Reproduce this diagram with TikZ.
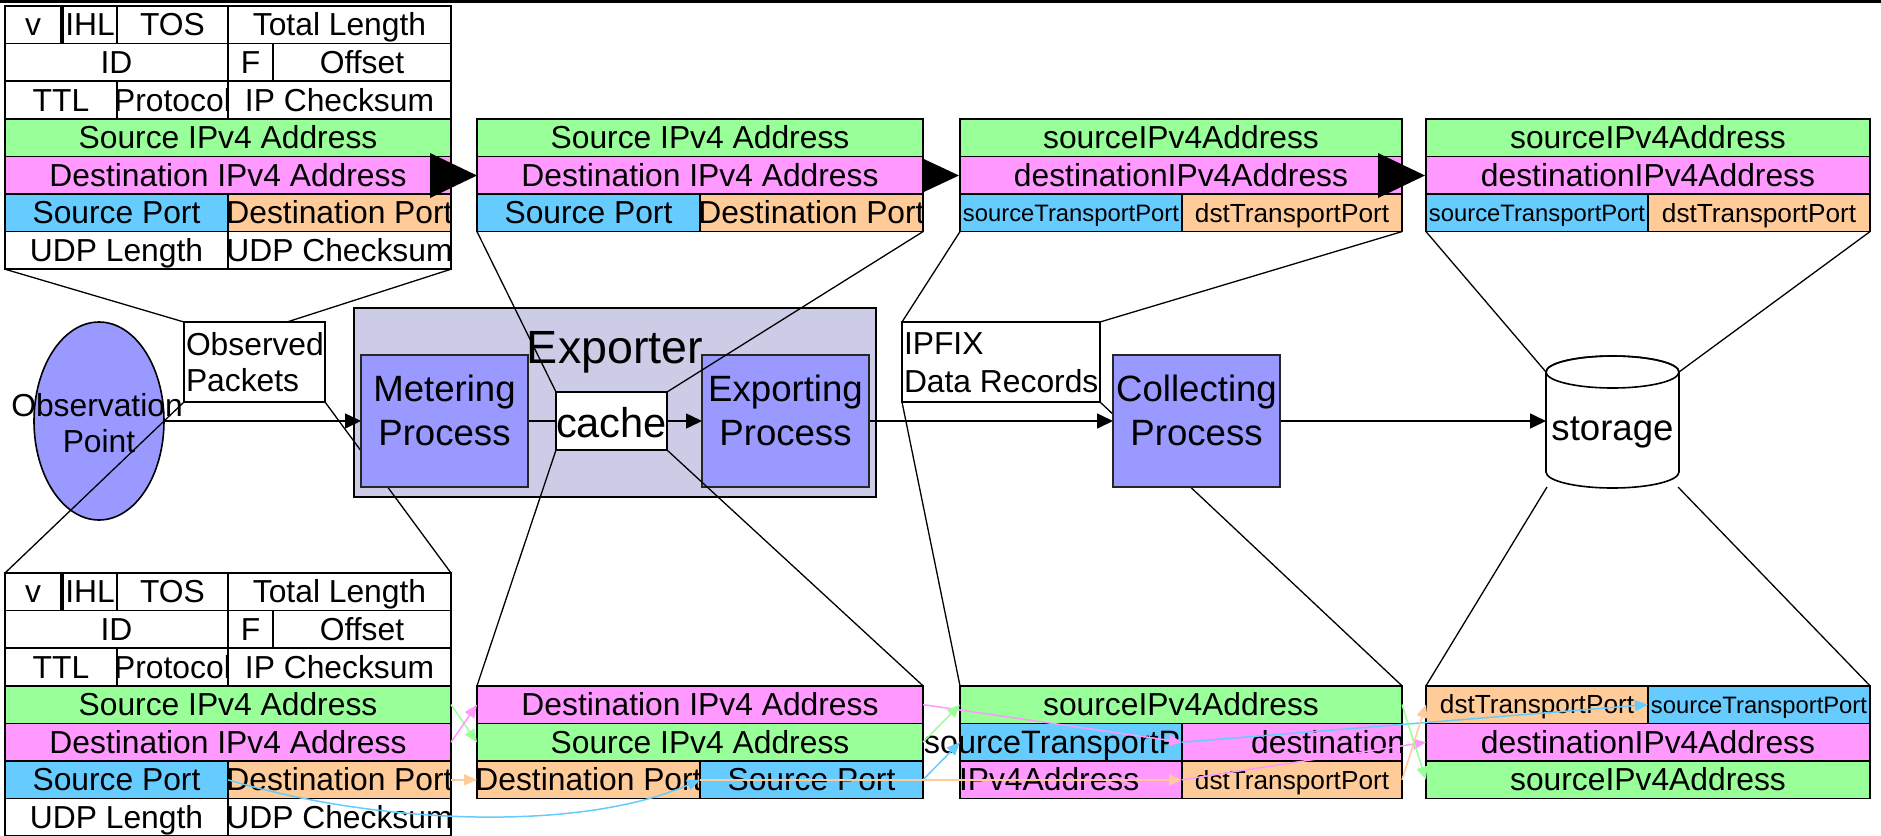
\documentclass[tikz,border=0pt]{standalone}
\usepackage{fontspec}
\setmainfont{Liberation Sans}
\usetikzlibrary{arrows.meta,shapes.geometric}
\definecolor{cgreen}{HTML}{99FF99}
\definecolor{cpink}{HTML}{FF99FF}
\definecolor{cblue}{HTML}{66CCFF}
\definecolor{corange}{HTML}{FFCC99}
\definecolor{cproc}{HTML}{9999FF}
\definecolor{cexp}{HTML}{CCCCE6}
\newcommand{\fTab}{\fontsize{15.9}{19}\selectfont}
\newcommand{\fProc}{\fontsize{18.3}{22}\selectfont}
\newcommand{\fExp}{\fontsize{23.3}{28}\selectfont}
\newcommand{\fCache}{\fontsize{20.8}{24}\selectfont}
\newcommand{\fSrc}{\fontsize{11.9}{14}\selectfont}
\newcommand{\fDst}{\fontsize{13.1}{16}\selectfont}
\pgfdeclarelayer{tables}
\pgfdeclarelayer{under}
\pgfdeclarelayer{over}
\pgfsetlayers{tables,under,main,over}
% name, x1, y1, x2, y2, fill, font, baseline shift, text
\newcommand{\tcellf}[9]{%
  \fill[#6] (#2,#3) rectangle (#4,#5);
  \begin{scope}
    \clip (#2,#3) rectangle (#4,#5);
    \node[lbl] (#1) at ({(#2+#4)/2},{(#3+#5)/2+#8}) {#7#9};
  \end{scope}
  \coordinate (#1-w) at (#2,{(#3+#5)/2});
  \coordinate (#1-e) at (#4,{(#3+#5)/2});
  \draw[cellline] (#2,#3) rectangle (#4,#5);
}
\newcommand{\tcell}[7]{\tcellf{#1}{#2}{#3}{#4}{#5}{#6}{\fTab}{11}{#7}}
% IPv4/UDP header table: prefix, then 8 row boundaries
\newcommand{\ipudp}[9]{%
  \tcell{#1v}{5}{#2}{61}{#3}{white}{v}
  \tcell{#1ihl}{63}{#2}{117}{#3}{white}{IHL}
  \tcell{#1tos}{117}{#2}{228}{#3}{white}{TOS}
  \tcell{#1tl}{228}{#2}{451}{#3}{white}{Total Length}
  \tcell{#1id}{5}{#3}{228}{#4}{white}{ID}
  \tcell{#1f}{228}{#3}{273}{#4}{white}{F}
  \tcell{#1off}{273}{#3}{451}{#4}{white}{Offset}
  \tcell{#1ttl}{5}{#4}{117}{#5}{white}{TTL}
  \tcell{#1pr}{117}{#4}{228}{#5}{white}{Protocol}
  \tcell{#1ipc}{228}{#4}{451}{#5}{white}{IP Checksum}
  \tcell{#1sip}{5}{#5}{451}{#6}{cgreen}{Source IPv4 Address}
  \tcell{#1dip}{5}{#6}{451}{#7}{cpink}{Destination IPv4 Address}
  \tcell{#1sp}{5}{#7}{228}{#8}{cblue}{Source Port}
  \tcell{#1dp}{228}{#7}{451}{#8}{corange}{Destination Port}
  \tcell{#1ul}{5}{#8}{228}{#9}{white}{UDP Length}
  \tcell{#1uc}{228}{#8}{451}{#9}{white}{UDP Checksum}
}
\begin{document}
\begin{tikzpicture}[x=0.5pt,y=-0.5pt,
  cellline/.style={draw=black, line width=0.8pt},
  zoomline/.style={draw=black, line width=0.65pt},
  mainflow/.style={draw=black, line width=0.8pt, -{Triangle[length=8pt,width=7.5pt]}},
  procbox/.style={rectangle, draw=black!85, line width=0.8pt, fill=cproc, inner sep=0pt, outer sep=0pt, minimum width=83.5pt, minimum height=66pt},
  plainbox/.style={rectangle, draw=black, line width=0.9pt, fill=white, inner sep=0pt, outer sep=0pt},
  expbox/.style={rectangle, draw=black, line width=1.2pt, fill=cexp, inner sep=0pt, outer sep=0pt},
  lbl/.style={anchor=base, inner sep=0pt, outer sep=0pt},
  garrow/.style={draw=cgreen, line width=0.75pt, -{Triangle[length=6.5pt,width=5.5pt]}},
  parrow/.style={draw=cpink, line width=0.75pt, -{Triangle[length=6.5pt,width=5.5pt]}},
  barrow/.style={draw=cblue, line width=0.75pt, -{Triangle[length=6.5pt,width=5.5pt]}},
  oarrow/.style={draw=corange, line width=0.75pt, -{Triangle[length=6.5pt,width=5.5pt]}}]
\useasboundingbox (0,0) rectangle (1881,836);

% ---------------- main layer: boxes ----------------
\node[plainbox, minimum width=70.5pt, minimum height=40pt] (obspk) at (254.5,362) {};
\node[procbox] (meter) at (444.5,421) {};
\node[procbox] (export) at (785.5,421) {};
\node[plainbox, minimum width=55.5pt, minimum height=29pt] (cache) at (611.5,421) {};
\node[plainbox, minimum width=99pt, minimum height=40pt] (ipfix) at (1001,362) {};
\node[procbox] (collect) at (1196.5,421) {};
% storage cylinder
\filldraw[fill=white, line width=0.8pt] (1546,372) -- (1546,472)
  arc[start angle=180,end angle=360,x radius=33.25pt,y radius=8pt] -- (1679,372)
  arc[start angle=0,end angle=180,x radius=33.25pt,y radius=8pt] -- cycle;
\draw[line width=0.8pt] (1612.5,372) ellipse [x radius=33.25pt, y radius=8pt];
\coordinate (stw) at (1546,421);
\coordinate (stTL) at (1546,372);
\coordinate (stTR) at (1679,372);
\coordinate (stBL) at (1547,487);
\coordinate (stBR) at (1678,487);

% texts
\node[lbl] (obspT1) at (97,416) {\fTab Observation};
\node[lbl] (obspT2) at (99,452) {\fTab Point};
\node[lbl, anchor=base west] (obspkT1) at (186,355) {\fTab Observed};
\node[lbl, anchor=base west] (obspkT2) at (186,391) {\fTab Packets};
\node[lbl] (expT) at (615,363) {\fExp Exporter};
\node[lbl] (meterT1) at (444.5,401) {\fProc Metering};
\node[lbl] (meterT2) at (444.5,445) {\fProc Process};
\begin{scope}
  \clip (556,392) rectangle (667,450);
  \node[lbl] (cacheT) at (611.5,437) {\fCache cache};
\end{scope}
\node[lbl] (exportT1) at (785.5,401) {\fProc Exporting};
\node[lbl] (exportT2) at (785.5,445) {\fProc Process};
\node[lbl, anchor=base west] (ipfixT1) at (904,354) {\fTab IPFIX};
\node[lbl, anchor=base west] (ipfixT2) at (904,392) {\fTab Data Records};
\node[lbl] (collectT1) at (1196.5,401) {\fProc Collecting};
\node[lbl] (collectT2) at (1196.5,445) {\fProc Process};
\node[lbl] (storT) at (1612.5,440) {\fProc storage};

% ---------------- tables layer ----------------
\begin{pgfonlayer}{tables}
\draw[line width=1.5pt] (0,1.5) -- (1881,1.5);
\ipudp{t1}{6}{43.6}{81.2}{118.8}{156.4}{194}{231.6}{269.2}
\fill (430,153) -- (477,175.5) -- (430,198) -- cycle;
\fill (911,153) -- (959,175.5) -- (911,198) -- cycle;
\tcell{t2sip}{477}{118.8}{923}{156.4}{cgreen}{Source IPv4 Address}
\tcell{t2dip}{477}{156.4}{923}{194}{cpink}{Destination IPv4 Address}
\tcell{t2sp}{477}{194}{700}{231.6}{cblue}{Source Port}
\tcell{t2dp}{700}{194}{923}{231.6}{corange}{Destination Port}
\tcell{t3sip}{960}{118.8}{1402}{156.4}{cgreen}{sourceIPv4Address}
\tcell{t3dip}{960}{156.4}{1402}{194}{cpink}{destinationIPv4Address}
\tcellf{t3sp}{960}{194}{1182}{231.6}{cblue}{\fSrc}{8.5}{sourceTransportPort}
\tcellf{t3dp}{1182}{194}{1402}{231.6}{corange}{\fDst}{9.3}{dstTransportPort}
\fill (1378,153) -- (1425,175.5) -- (1378,198) -- cycle;
\tcell{t4sip}{1426}{118.8}{1870}{156.4}{cgreen}{sourceIPv4Address}
\tcell{t4dip}{1426}{156.4}{1870}{194}{cpink}{destinationIPv4Address}
\tcellf{t4sp}{1426}{194}{1648}{231.6}{cblue}{\fSrc}{8.5}{sourceTransportPort}
\tcellf{t4dp}{1648}{194}{1870}{231.6}{corange}{\fDst}{9.3}{dstTransportPort}

\ipudp{b1}{573}{610.6}{648.2}{685.8}{723.4}{761}{798.6}{836.2}
\tcell{b2dip}{477}{685.8}{923}{723.4}{cpink}{Destination IPv4 Address}
\tcell{b2sip}{477}{723.4}{923}{761}{cgreen}{Source IPv4 Address}
\tcell{b2dp}{477}{761}{700}{798.6}{corange}{Destination Port}
\tcell{b2sp}{700}{761}{923}{798.6}{cblue}{Source Port}

\tcell{b3sip}{960}{685.8}{1402}{723.4}{cgreen}{sourceIPv4Address}
\fill[cblue] (960,723.4) rectangle (1182,761);
\node[lbl] (b3spT) at (1071,753.2) {\fontsize{16.2}{19}\selectfont sourceTransportPort};
\draw[line width=0.6pt] (1107,744) -- (1107,761);
\coordinate (b3sp-w) at (960,742.2);
\coordinate (b3sp-e) at (1182,742.2);
\draw[cellline] (960,723.4) rectangle (1182,761);
\fill[cpink] (1182,723.4) rectangle (1402,761);
\begin{scope}
  \clip (1182,723.4) rectangle (1402,761);
  \node[lbl, anchor=base east] (b3dipaT) at (1405,753.2) {\fTab destination};
\end{scope}
\coordinate (b3dipa-w) at (1182,742.2);
\draw[cellline] (1182,723.4) rectangle (1402,761);
\fill[cpink] (960,761) rectangle (1182,798.6);
\begin{scope}
  \clip (960,761) rectangle (1182,798.6);
  \node[lbl, anchor=base west] (b3dipbT) at (959,790.8) {\fTab IPv4Address};
\end{scope}
\coordinate (b3dipb-e) at (1182,779.8);
\draw[cellline] (960,761) rectangle (1182,798.6);
\tcellf{b3dp}{1182}{761}{1402}{798.6}{corange}{\fDst}{9.3}{dstTransportPort}

\tcellf{b4dp}{1426}{685.8}{1648}{723.4}{corange}{\fDst}{9.3}{dstTransportPort}
\tcellf{b4sp}{1648}{685.8}{1870}{723.4}{cblue}{\fSrc}{8.5}{sourceTransportPort}
\tcell{b4dip}{1426}{723.4}{1870}{761}{cpink}{destinationIPv4Address}
\tcell{b4sip}{1426}{761}{1870}{798.6}{cgreen}{sourceIPv4Address}

\node[expbox, minimum width=261pt, minimum height=94.5pt] (exporter) at (615,402.5) {};
\node[ellipse, draw=black, line width=0.8pt, fill=cproc, inner sep=0pt, outer sep=0pt,
      minimum width=65pt, minimum height=99pt] (obsp) at (99,421) {};
\end{pgfonlayer}

% table corner coordinates
\coordinate (t1BL) at (5,269.2);
\coordinate (t1BR) at (451,269.2);
\coordinate (opkT) at (287,322);
\coordinate (b1TL) at (5,573);
\coordinate (b1TR) at (451,573);
\coordinate (t2BL) at (477,231.6);
\coordinate (t2BR) at (923,231.6);
\coordinate (b2TL) at (477,685.8);
\coordinate (b2TR) at (923,685.8);
\coordinate (t3BL) at (960,231.6);
\coordinate (t3BR) at (1402,231.6);
\coordinate (b3TL) at (960,685.8);
\coordinate (b3TR) at (1402,685.8);
\coordinate (t4BL) at (1426,231.6);
\coordinate (t4BR) at (1870,231.6);
\coordinate (b4TL) at (1426,685.8);
\coordinate (b4TR) at (1870,685.8);

% ---------------- under layer: zoom lines and flow ----------------
\begin{pgfonlayer}{under}
\draw[zoomline] (t1BL) -- (obspk.north west);
\draw[zoomline] (t1BR) -- (opkT);
\draw[zoomline] (obspk.south west) -- (b1TL);
\draw[zoomline] (obspk.south east) -- (b1TR);
\draw[zoomline] (t3BL) -- (ipfix.north west);
\draw[zoomline] (t3BR) -- (ipfix.north east);
\draw[zoomline] (ipfix.south west) -- (b3TL);
\draw[zoomline] (ipfix.south east) -- (b3TR);
\draw[zoomline] (t4BL) -- (stTL);
\draw[zoomline] (t4BR) -- (stTR);
\draw[zoomline] (stBL) -- (b4TL);
\draw[zoomline] (stBR) -- (b4TR);
\draw[mainflow] (obsp.east) -- (meter.west);
\draw[mainflow] (meter.east) -- (export.west);
\draw[mainflow] (export.east) -- (collect.west);
\draw[mainflow] (collect.east) -- (stw);
\end{pgfonlayer}

% ---------------- over layer ----------------
\begin{pgfonlayer}{over}
\draw[zoomline] (t2BL) -- (cache.north west);
\draw[zoomline] (t2BR) -- (cache.north east);
\draw[zoomline] (cache.south west) -- (b2TL);
\draw[zoomline] (cache.south east) -- (b2TR);
% B1 -> B2
\draw[garrow] (b1sip-e) -- (b2sip-w);
\draw[parrow] (b1dip-e) -- (b2dip-w);
\draw[oarrow] (b1dp-e) -- (b2dp-w);
\draw[barrow] (b1sp-e) .. controls (380,825) and (580,832) .. (b2sp-w);
% B2 -> B3
\draw[parrow] (b2dip-e) -- (b3dipa-w);
\draw[garrow] (b2sip-e) -- (b3sip-w);
\draw[barrow] (b2sp-e) -- (b3sp-w);
\draw[oarrow] (b2dp-e) -- (b3dp-w);
% B3 -> B4
\draw[barrow] (b3sp-e) -- (b4sp-w);
\draw[parrow] (b3dipb-e) -- (b4dip-w);
\draw[oarrow] (b3dp-e) -- (b4dp-w);
\draw[garrow] (b3sip-e) -- (b4sip-w);
\end{pgfonlayer}
\end{tikzpicture}
\end{document}
